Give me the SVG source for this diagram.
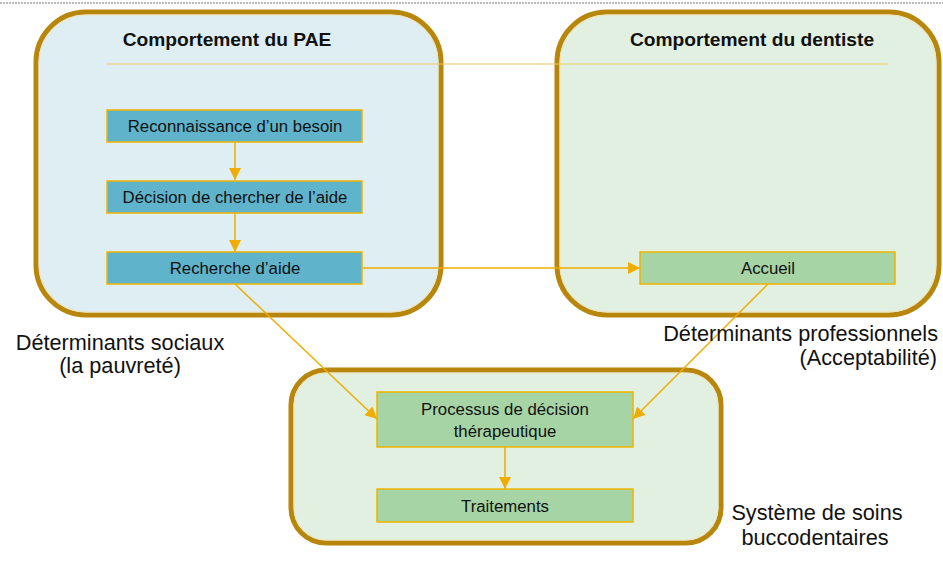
<svg xmlns="http://www.w3.org/2000/svg" width="943" height="561" viewBox="0 0 943 561">
<style>
.cont{stroke:#B8860B;stroke-width:5}
.inner{fill:none;stroke:#F3E3B8;stroke-width:1}
.blue{fill:#5FB3CB;stroke:#F0B400;stroke-width:1.5}
.green{fill:#A6D4A4;stroke:#F0B400;stroke-width:1.5}
.t{font-family:"Liberation Sans",Arial,sans-serif;fill:#111}
.box{font-size:16.8px;text-anchor:middle}
.title{font-size:19.2px;font-weight:bold;text-anchor:middle}
.lab{font-size:21.7px}
.conn{stroke:#F0AC00;stroke-width:1.5;fill:none;marker-end:url(#ah)}
</style>
<defs>
<marker id="ah" markerUnits="userSpaceOnUse" markerWidth="14" markerHeight="14" refX="12" refY="6" orient="auto">
<path d="M0,0 L12,6 L0,12 z" fill="#F0AC00"/>
</marker>
</defs>
<rect width="943" height="561" fill="#fff"/>
<line x1="0" y1="3" x2="943" y2="3" stroke="#777" stroke-width="1" stroke-dasharray="2,1"/>
<g id="pae">
<rect class="cont" x="36" y="12" width="405" height="303" rx="50" fill="#DEEEF2"/>
<rect class="inner" x="39" y="15" width="399" height="297" rx="47"/>
<text class="t title" x="227" y="46">Comportement du PAE</text>
</g>
<g id="dentiste">
<rect class="cont" x="557" y="12" width="382" height="303" rx="50" fill="#E1F0E1"/>
<rect class="inner" x="560" y="15" width="376" height="297" rx="47"/>
<text class="t title" x="752" y="46">Comportement du dentiste</text>
</g>
<g id="systeme">
<rect class="cont" x="291" y="370" width="430" height="173" rx="35" fill="#E1F0E1"/>
<rect class="inner" x="294" y="373" width="424" height="167" rx="32"/>
</g>
<line id="separator" x1="107" y1="64" x2="888" y2="64" stroke="#F0C860" stroke-width="1.2"/>
<g id="connectors">
<line class="conn" x1="235" y1="142" x2="235" y2="180"/>
<line class="conn" x1="235" y1="213" x2="235" y2="252"/>
<line class="conn" x1="363" y1="268" x2="640" y2="268"/>
<line class="conn" x1="235" y1="284" x2="377" y2="419"/>
<line class="conn" x1="768" y1="284" x2="633" y2="419"/>
<line class="conn" x1="505" y1="447" x2="505" y2="489"/>
</g>
<g id="reconnaissance">
<rect class="blue" x="107" y="110" width="255" height="32"/>
<text class="t box" x="235" y="132">Reconnaissance d’un besoin</text>
</g>
<g id="decision">
<rect class="blue" x="107" y="181" width="255" height="32"/>
<text class="t box" x="235" y="203">Décision de chercher de l’aide</text>
</g>
<g id="recherche">
<rect class="blue" x="107" y="252" width="255" height="32"/>
<text class="t box" x="235" y="274">Recherche d’aide</text>
</g>
<g id="accueil">
<rect class="green" x="640" y="252" width="255" height="32"/>
<text class="t box" x="768" y="274">Accueil</text>
</g>
<g id="processus">
<rect class="green" x="377" y="392" width="256" height="55"/>
<text class="t box" x="505" y="415">Processus de décision</text>
<text class="t box" x="505" y="437">thérapeutique</text>
</g>
<g id="traitements">
<rect class="green" x="377" y="489" width="256" height="33"/>
<text class="t box" x="505" y="512">Traitements</text>
</g>
<g id="labels">
<text class="t lab" x="120" y="350" text-anchor="middle">Déterminants sociaux</text>
<text class="t lab" x="120" y="373" text-anchor="middle">(la pauvreté)</text>
<text class="t lab" x="938" y="341" text-anchor="end">Déterminants professionnels</text>
<text class="t lab" x="937" y="365" text-anchor="end">(Acceptabilité)</text>
<text class="t lab" x="817" y="520" text-anchor="middle">Système de soins</text>
<text class="t lab" x="815" y="545" text-anchor="middle">buccodentaires</text>
</g>
</svg>
